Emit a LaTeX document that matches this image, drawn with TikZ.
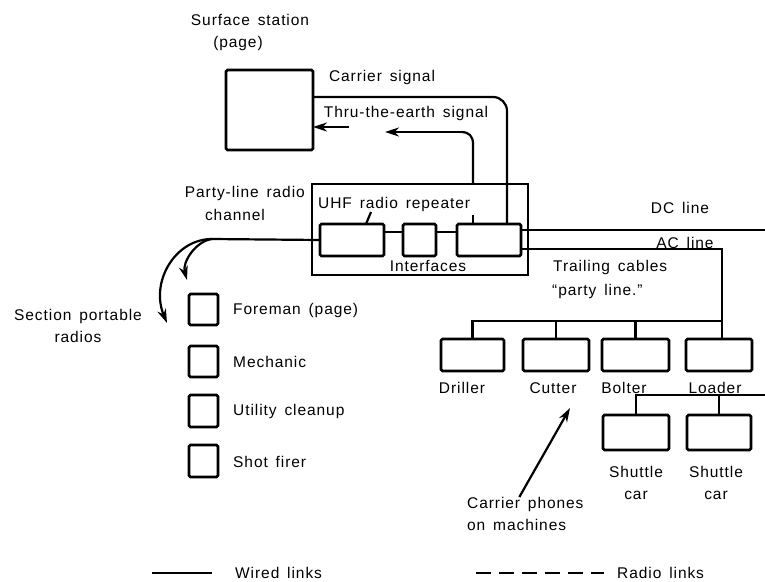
\documentclass[tikz,border=0pt]{standalone}
\usepackage{fontspec}
\setmainfont{Liberation Sans}[LetterSpace=6,WordSpace=1.5]
\usetikzlibrary{arrows.meta}
\begin{document}
\begin{tikzpicture}[x=1pt,y=-1pt,
  box/.style={draw,line width=2.6pt,rounded corners=1.5pt,inner sep=0pt,outer sep=0pt},
  wire/.style={line width=2.2pt},
  lbl/.style={inner sep=0pt,font=\fontsize{15.5}{22}\selectfont},
  arr/.style={-{Stealth[length=14pt,width=9pt]}}]
\useasboundingbox (0,0) rectangle (765,581);

% boxes
\node[box,minimum width=87pt,minimum height=80pt] (surf) at (269.5,110) {};
\node[box,rounded corners=0pt,minimum width=216pt,minimum height=91pt] (rep) at (420,229.5) {};
\node[box,minimum width=64pt,minimum height=32pt] (ib1) at (352,240) {};
\node[box,minimum width=33pt,minimum height=32pt] (ib2) at (419.5,240) {};
\node[box,minimum width=64pt,minimum height=32pt] (ib3) at (489,240) {};

\node[box,minimum width=63pt,minimum height=32pt] (driller) at (472.5,355) {};
\node[box,minimum width=66pt,minimum height=32pt] (cutter) at (556,355) {};
\node[box,minimum width=67pt,minimum height=32pt] (bolter) at (635.5,355) {};
\node[box,minimum width=66pt,minimum height=32pt] (loader) at (719,355) {};
\node[box,minimum width=66pt,minimum height=35pt] (sh1) at (636,432.5) {};
\node[box,minimum width=64pt,minimum height=35pt] (sh2) at (719,432.5) {};

\node[box,minimum width=29pt,minimum height=31pt] (r1) at (203.5,309.5) {};
\node[box,minimum width=29pt,minimum height=31pt] (r2) at (203.5,361.5) {};
\node[box,minimum width=29pt,minimum height=32pt] (r3) at (203.5,411) {};
\node[box,minimum width=29pt,minimum height=32pt] (r4) at (203.5,461) {};

% texts
\node[lbl] (ss1) at (250,20) {Surface station};
\node[lbl] (ss2) at (238,43) {(page)};
\node[lbl] (carr) at (382,77) {Carrier signal};
\node[lbl] (tte) at (406,113) {Thru-the-earth signal};
\node[lbl,anchor=west] (uhf) at (318,204) {UHF radio repeater};
\node[lbl] (intf) at (428,266) {Interfaces};
\node[lbl,anchor=east] (pl1) at (305,193) {Party-line radio};
\node[lbl] (pl2) at (235,215) {channel};
\node[lbl,align=center] (spr) at (78,326) {Section portable\\radios};
\node[lbl] (dc) at (680,208) {DC line};
\node[lbl] (ac) at (685,243) {AC line};
\node[lbl,anchor=west] (tc1) at (553,267) {Trailing cables};
\node[lbl,anchor=west] (tc2) at (552,291) {``party line.''};
\node[lbl] (ldr) at (462,388) {Driller};
\node[lbl] (lcu) at (553,388) {Cutter};
\node[lbl] (lbo) at (624,388) {Bolter};
\node[lbl] (llo) at (715,388) {Loader};
\node[lbl,align=center] (ls1) at (636,483) {Shuttle\\car};
\node[lbl,align=center] (ls2) at (716,483) {Shuttle\\car};
\node[lbl,align=left,anchor=north west] (cpt) at (467,497) {Carrier phones\\on machines};
\node[lbl,anchor=west] (lf) at (233,310) {Foreman (page)};
\node[lbl,anchor=west] (lm) at (233,362) {Mechanic};
\node[lbl,anchor=west] (lu) at (233,411) {Utility cleanup};
\node[lbl,anchor=west] (ls) at (233,462) {Shot firer};
\node[lbl,anchor=west] (wl) at (235,573) {Wired links};
\node[lbl,anchor=west] (rl) at (617,573) {Radio links};

% coordinates
\coordinate (dcend) at (765,230);
\coordinate (busR) at (722,321);
\coordinate (sbusR) at (765,395);
\coordinate (reptop) at (473,184);
\coordinate (tv) at (473,144);
\coordinate (th) at (461,132);
\coordinate (tteB) at (385,132);
\coordinate (tteA) at (349,127);
\coordinate (ch) at (212,239);
\coordinate (cptip) at (570,408);
\coordinate (wa) at (152,573);
\coordinate (wb) at (212,573);
\coordinate (ra) at (476,573);
\coordinate (rb) at (604,573);

% repeater internals
\draw[wire] ([yshift=8pt]ib1.east) -- ([yshift=8pt]ib2.west);
\draw[wire] ([yshift=8pt]ib2.east) -- ([yshift=8pt]ib3.west);
\draw[wire] ([xshift=14pt]ib1.north) -- ++(5,-12);
\draw[wire] ([xshift=-16pt]ib3.north) -- ++(0,-9);

% lines out
\draw[wire] ([yshift=10pt]ib3.east) -- (dcend);
\draw[wire] ([yshift=-9pt]ib3.east) -| (busR) -- (busR |- loader.north);
\draw[wire] (driller.north) |- (busR);
\draw[wire] (cutter.north) -- (cutter.north |- busR);
\draw[wire] (bolter.north) -- (bolter.north |- busR);
\draw[wire] (sh1.north) |- (sbusR);
\draw[wire] (sh2.north) -- (sh2.north |- sbusR);

% surface links
\draw[wire,rounded corners=14pt] ([yshift=13pt]surf.east) -| ([xshift=18pt]ib3.north);
\draw[wire] (reptop) -- (tv) .. controls (473,136) and (469,132) .. (th);
\draw[wire,arr] (th) -- (tteB);
\draw[wire,arr] (tteA) -- ([yshift=-17pt]surf.east);

% party-line radio channel
\draw[wire] (ib1.west) -- (ch);
\draw[wire,arr] (ch) .. controls (175,239) and (150,282) .. (167,323);
\draw[wire,arr] (ch) .. controls (196,241) and (182,262) .. (187,280);

% carrier phones pointer
\draw[wire,arr] ([xshift=-6pt]cpt.north) -- (cptip);

% legend
\draw[wire] (wa) -- (wb);
\draw[wire,dash pattern=on 15pt off 8pt] (ra) -- (rb);
\end{tikzpicture}
\end{document}
